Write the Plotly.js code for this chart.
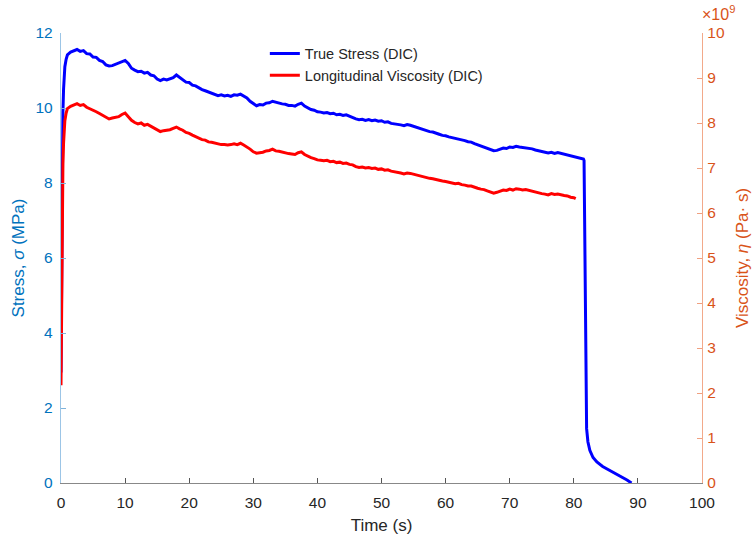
<!DOCTYPE html>
<html>
<head>
<meta charset="utf-8">
<script src="https://cdn.plot.ly/plotly-3.0.1.min.js"></script>
<style>html,body{margin:0;padding:0;background:#fff;}#chart{width:755px;height:540px;}</style>
</head>
<body>
<div id="chart"></div>
<script>
// Time (s) for stress curve
var tStress = [0,0.1,0.2,0.3,0.4,0.5,0.6,0.8,
1,1.5,2,2.5,3,3.5,4,4.5,5,5.5,6,6.5,7,7.5,8,8.5,9,9.5,10,10.5,11,11.5,12,12.5,13,13.5,14,14.5,15,15.5,16,16.5,17,17.5,18,18.5,19,19.5,20,20.5,
21,21.5,22,22.5,23,23.5,24,24.5,25,25.5,26,26.5,27,27.5,28,28.5,29,29.5,30,30.5,31,31.5,32,32.5,33,33.5,34,34.5,35,35.5,36,36.5,37,37.5,38,38.5,39,39.5,40,40.5,
41,41.5,42,42.5,43,43.5,44,44.5,45,45.5,46,46.5,47,47.5,48,48.5,49,49.5,50,50.5,51,51.5,52,52.5,53,53.5,54,54.5,55,55.5,56,56.5,57,57.5,58,58.5,59,59.5,60,60.5,
61,61.5,62,62.5,63,63.5,64,64.5,65,65.5,66,66.5,67,67.5,68,68.5,69,69.5,70,70.5,71,71.5,72,72.5,73,73.5,74,74.5,75,75.5,76,76.5,77,77.5,78,78.5,79,79.5,80,80.5,
81,81.5,81.6,81.7,81.8,81.9,82.0,82.2,82.5,83.0,83.6,84.5,85.6,86.5,87.5,88.3,89.0];
// True stress (MPa)
var stress = [2.95,6.3,8.8,9.9,10.5,10.85,11.1,11.3,
11.42,11.49,11.53,11.56,11.51,11.53,11.45,11.44,11.36,11.35,11.27,11.24,11.15,11.12,11.13,11.16,11.19,11.24,11.27,11.19,11.06,11.01,10.97,10.98,10.93,10.95,10.88,10.86,10.77,10.73,10.77,10.75,10.79,10.81,10.88,10.82,10.76,10.69,10.68,10.61,
10.59,10.53,10.49,10.46,10.43,10.39,10.38,10.33,10.35,10.32,10.34,10.31,10.35,10.34,10.37,10.33,10.27,10.18,10.12,10.06,10.09,10.08,10.13,10.14,10.18,10.15,10.14,10.11,10.10,10.07,10.07,10.05,10.10,10.13,10.05,10.00,9.96,9.94,9.90,9.89,
9.87,9.88,9.85,9.86,9.82,9.83,9.80,9.82,9.78,9.76,9.71,9.69,9.70,9.67,9.69,9.66,9.68,9.65,9.66,9.62,9.63,9.59,9.58,9.56,9.55,9.53,9.56,9.54,9.51,9.48,9.45,9.43,9.39,9.37,9.36,9.32,9.30,9.27,9.26,9.23,
9.21,9.18,9.18,9.15,9.13,9.10,9.09,9.05,9.02,8.99,8.97,8.93,8.90,8.86,8.87,8.90,8.93,8.92,8.96,8.95,8.98,8.96,8.95,8.94,8.92,8.91,8.88,8.86,8.83,8.81,8.80,8.82,8.79,8.81,8.79,8.76,8.75,8.72,8.71,8.68,
8.67,8.64,8.60,6.4,4.2,2.6,1.45,1.1,0.87,0.68,0.56,0.44,0.34,0.25,0.16,0.08,0.0];

// Time (s) for viscosity curve
var tVisc = [0,0.1,0.2,0.3,0.4,0.5,0.6,0.8,
1,1.5,2,2.5,3,3.5,4,4.5,5,5.5,6,6.5,7,7.5,8,8.5,9,9.5,10,10.5,11,11.5,12,12.5,13,13.5,14,14.5,15,15.5,16,16.5,17,17.5,18,18.5,19,19.5,20,20.5,
21,21.5,22,22.5,23,23.5,24,24.5,25,25.5,26,26.5,27,27.5,28,28.5,29,29.5,30,30.5,31,31.5,32,32.5,33,33.5,34,34.5,35,35.5,36,36.5,37,37.5,38,38.5,39,39.5,40,40.5,
41,41.5,42,42.5,43,43.5,44,44.5,45,45.5,46,46.5,47,47.5,48,48.5,49,49.5,50,50.5,51,51.5,52,52.5,53,53.5,54,54.5,55,55.5,56,56.5,57,57.5,58,58.5,59,59.5,60,60.5,
61,61.5,62,62.5,63,63.5,64,64.5,65,65.5,66,66.5,67,67.5,68,68.5,69,69.5,70,70.5,71,71.5,72,72.5,73,73.5,74,74.5,75,75.5,76,76.5,77,77.5,78,78.5,79,79.5,80,80.3];
// Longitudinal viscosity (x 1e9 Pa·s)
var viscosity = [2.17,4.6,6.4,7.1,7.55,7.85,8.05,8.22,
8.32,8.37,8.40,8.43,8.39,8.41,8.35,8.32,8.28,8.25,8.21,8.17,8.13,8.09,8.11,8.13,8.14,8.19,8.22,8.14,8.06,8.01,7.98,8.00,7.95,7.97,7.93,7.90,7.85,7.81,7.83,7.84,7.85,7.88,7.91,7.87,7.84,7.79,7.77,7.73,
7.70,7.67,7.63,7.62,7.58,7.57,7.55,7.53,7.52,7.52,7.51,7.52,7.54,7.52,7.55,7.51,7.47,7.42,7.36,7.33,7.34,7.35,7.38,7.39,7.42,7.38,7.37,7.35,7.34,7.32,7.31,7.30,7.34,7.36,7.30,7.26,7.23,7.21,7.18,7.17,
7.16,7.17,7.14,7.15,7.12,7.13,7.10,7.11,7.08,7.07,7.03,7.01,7.02,7.00,7.01,6.99,7.00,6.97,6.98,6.95,6.96,6.93,6.92,6.90,6.89,6.87,6.89,6.88,6.86,6.84,6.82,6.81,6.78,6.77,6.76,6.74,6.72,6.71,6.70,6.68,
6.67,6.65,6.66,6.63,6.62,6.60,6.60,6.57,6.55,6.53,6.52,6.49,6.47,6.44,6.46,6.48,6.51,6.50,6.53,6.51,6.54,6.53,6.51,6.52,6.50,6.48,6.47,6.44,6.43,6.42,6.40,6.43,6.41,6.42,6.40,6.39,6.38,6.35,6.34,6.32];

var xTicks = [0,10,20,30,40,50,60,70,80,90,100];
var yLeftTicks = [0,2,4,6,8,10,12];
var yRightTicks = [0,1,2,3,4,5,6,7,8,9,10];

var blueAx = '#0072BD', orangeAx = '#D95319', dark = '#262626';
var font = 'Liberation Sans, Arial, Helvetica, sans-serif';

var traces = [
  {x: tStress, y: stress, type: 'scatter', mode: 'lines', name: 'True Stress (DIC)',
   line: {color: '#0000FF', width: 3}, yaxis: 'y'},
  {x: tVisc, y: viscosity, type: 'scatter', mode: 'lines', name: 'Longitudinal Viscosity (DIC)',
   line: {color: '#FF0000', width: 3}, yaxis: 'y2'}
];

var layout = {
  width: 755, height: 540,
  margin: {l: 61, r: 53, t: 33, b: 57},
  paper_bgcolor: '#fff', plot_bgcolor: '#fff',
  font: {family: font, size: 15, color: dark},
  showlegend: true,
  legend: {x: 0.318, y: 0.99, xanchor: 'left', yanchor: 'top', bgcolor: 'rgba(0,0,0,0)',
           font: {size: 14.5, color: dark}, tracegroupgap: 0, itemwidth: 30},
  xaxis: {range: [0, 100], tickvals: xTicks, ticktext: xTicks.map(String),
          ticks: 'inside', ticklen: 5, tickcolor: '#555', showline: true, linecolor: '#888', linewidth: 1,
          showgrid: false, zeroline: false, tickfont: {size: 15.5, color: dark}, ticklabelstandoff: 5,
          title: {text: 'Time (s)', font: {size: 17, color: dark}, standoff: 9}},
  yaxis: {range: [0, 12], tickvals: yLeftTicks, ticktext: yLeftTicks.map(String),
          ticks: 'inside', ticklen: 5, tickcolor: '#7fb3da', showline: true, linecolor: '#9cc5e6', linewidth: 1.2,
          showgrid: false, zeroline: false, tickfont: {size: 15.5, color: blueAx}, ticklabelstandoff: 4,
          title: {text: 'Stress, <i>σ</i> (MPa)', font: {size: 17, color: blueAx}, standoff: 6}},
  yaxis2: {range: [0, 10], overlaying: 'y', side: 'right', tickvals: yRightTicks, ticktext: yRightTicks.map(String),
          ticks: 'inside', ticklen: 5, tickcolor: '#f0a080', showline: true, linecolor: '#f2a98a', linewidth: 1.2,
          showgrid: false, zeroline: false, tickfont: {size: 15.5, color: orangeAx}, ticklabelstandoff: 1,
          title: {text: 'Viscosity, <i>η</i> (Pa· s)', font: {size: 17, color: orangeAx}, standoff: 12}},
  annotations: [
    {xref: 'paper', yref: 'paper', x: 1.0, y: 1.0, xanchor: 'left', yanchor: 'bottom', xshift: -2, yshift: 8,
     text: '×10<sup>9</sup>', showarrow: false, font: {size: 16, color: orangeAx, family: font}}
  ]
};

Plotly.newPlot('chart', traces, layout, {displayModeBar: false, staticPlot: true});
</script>
</body>
</html>
